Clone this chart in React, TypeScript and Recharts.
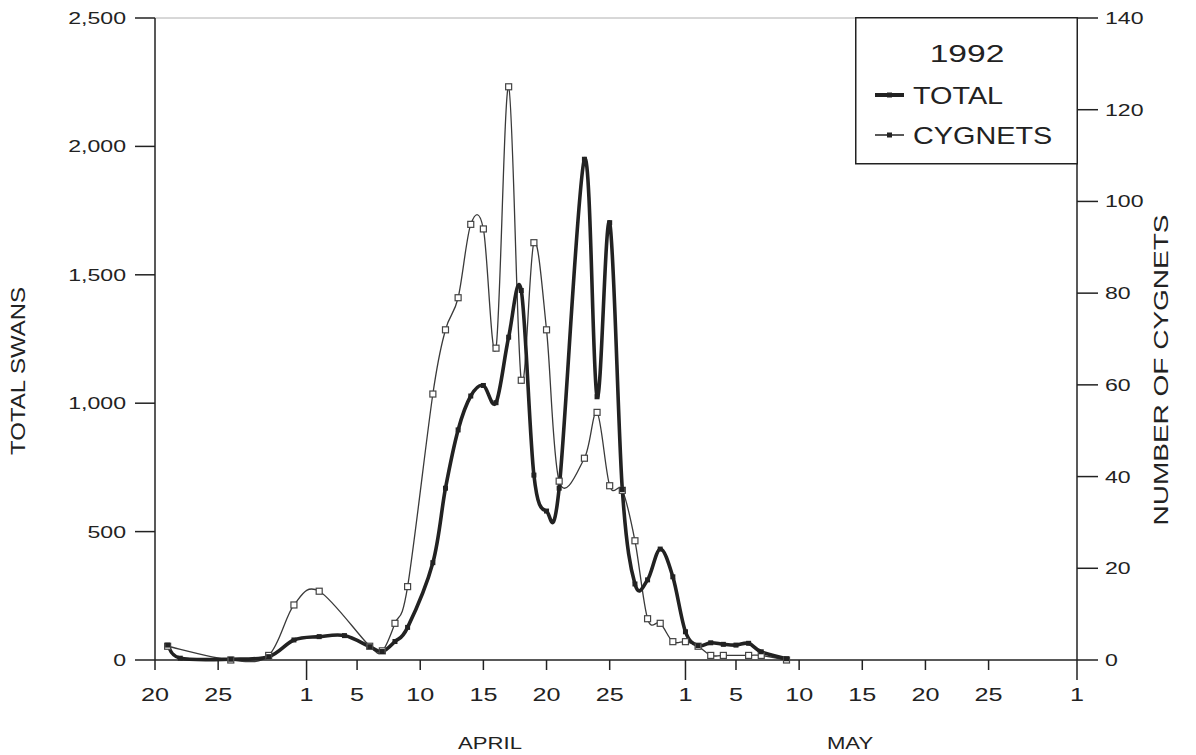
import React from 'react';
import { ComposedChart, Line, XAxis, YAxis, Legend, ReferenceLine } from 'recharts';

// ---- data (day 0 = 20 March 1992) ----
const dayTicks = [0, 5, 12, 16, 21, 26, 31, 36, 42, 46, 51, 56, 61, 66, 73];
const dayTickLabels = ['20', '25', '1', '5', '10', '15', '20', '25', '1', '5', '10', '15', '20', '25', '1'];
const monthStartTicks = [12, 42, 73];
const monthLabels = ['APRIL', 'MAY'];

const totalDays = [1, 2, 6, 9, 11, 13, 15, 17, 18, 19, 20, 22, 23, 24, 25, 26, 27, 28, 29, 30, 31, 32, 34, 35, 36, 37, 38, 39, 40, 41, 42, 43, 44, 45, 46, 47, 48, 50];
const totalValues = [58, 7, 3, 13, 78, 91, 95, 52, 33, 72, 127, 379, 669, 896, 1028, 1069, 1002, 1257, 1439, 720, 580, 669, 1950, 1025, 1703, 664, 296, 312, 432, 324, 110, 56, 67, 61, 58, 65, 32, 5];

const cygnetDays = [1, 6, 9, 11, 13, 17, 18, 19, 20, 22, 23, 24, 25, 26, 27, 28, 29, 30, 31, 32, 34, 35, 36, 37, 38, 39, 40, 41, 42, 43, 44, 45, 47, 48, 50];
const cygnetValues = [3, 0, 1, 12, 15, 3, 2, 8, 16, 58, 72, 79, 95, 94, 68, 125, 61, 91, 72, 39, 44, 54, 38, 37, 26, 9, 8, 4, 4, 3, 1, 1, 1, 1, 0];

const leftTicks = [0, 500, 1000, 1500, 2000, 2500];
const rightTicks = [0, 20, 40, 60, 80, 100, 120, 140];

const totalData = totalDays.map((d, i) => ({ day: d, total: totalValues[i] }));
const cygnetData = cygnetDays.map((d, i) => ({ day: d, cygnets: cygnetValues[i] }));

const INK = '#222';
const FONT = '"Liberation Sans", Arial, sans-serif';

// Catmull-Rom style curve factory
const catmullRom = (context: any) => {
  let pts: number[][] = [];
  return {
    areaStart() {},
    areaEnd() {},
    lineStart() {
      pts = [];
    },
    lineEnd() {
      const n = pts.length;
      if (!n) return;
      context.moveTo(pts[0][0], pts[0][1]);
      const k = 1 / 6;
      for (let i = 0; i < n - 1; i++) {
        const p0 = pts[i - 1] || pts[i];
        const p1 = pts[i];
        const p2 = pts[i + 1];
        const p3 = pts[i + 2] || p2;
        context.bezierCurveTo(
          p1[0] + (p2[0] - p0[0]) * k,
          p1[1] + (p2[1] - p0[1]) * k,
          p2[0] - (p3[0] - p1[0]) * k,
          p2[1] - (p3[1] - p1[1]) * k,
          p2[0],
          p2[1]
        );
      }
    },
    point(x: number, y: number) {
      pts.push([+x, +y]);
    },
  };
};

const XTick = (props: any) => {
  const { x, y, payload } = props;
  const idx = dayTicks.indexOf(payload.value);
  const long = monthStartTicks.includes(payload.value);
  return (
    <g>
      <line x1={x} x2={x} y1={y} y2={y + (long ? 20 : 10)} stroke={INK} strokeWidth={1.5} />
      <text
        transform={`translate(${x},${y + 41}) scale(1.4,1)`}
        textAnchor="middle"
        fontSize={18}
        fontFamily={FONT}
        fill={INK}
      >
        {dayTickLabels[idx]}
      </text>
    </g>
  );
};

const LeftTick = (props: any) => {
  const { x, y, payload } = props;
  return (
    <text
      transform={`translate(${x},${y + 6}) scale(1.4,1)`}
      textAnchor="end"
      fontSize={16.5}
      fontFamily={FONT}
      fill={INK}
    >
      {Number(payload.value).toLocaleString('en-US')}
    </text>
  );
};

const RightTick = (props: any) => {
  const { x, y, payload } = props;
  return (
    <text
      transform={`translate(${x},${y + 6}) scale(1.4,1)`}
      textAnchor="start"
      fontSize={16.5}
      fontFamily={FONT}
      fill={INK}
    >
      {payload.value}
    </text>
  );
};

const TotalDot = (props: any) => {
  const { cx, cy, index } = props;
  if (cx == null || cy == null) return <g key={`t${index}`} />;
  return <rect key={`t${index}`} x={cx - 2.5} y={cy - 2.5} width={5} height={5} fill={INK} />;
};

const CygnetDot = (props: any) => {
  const { cx, cy, index } = props;
  if (cx == null || cy == null) return <g key={`c${index}`} />;
  return (
    <rect
      key={`c${index}`}
      x={cx - 3}
      y={cy - 3}
      width={6}
      height={6}
      fill="#fff"
      stroke="#444"
      strokeWidth={1.2}
    />
  );
};

const LegendBox = () => (
  <svg width={223} height={148} style={{ display: 'block' }}>
    <rect x={0.75} y={0.75} width={221.5} height={146} fill="#fff" stroke={INK} strokeWidth={1.5} />
    <text
      transform="translate(112,45) scale(1.4,1)"
      textAnchor="middle"
      fontSize={24}
      fontFamily={FONT}
      fill={INK}
    >
      1992
    </text>
    <line x1={20} x2={49} y1={78} y2={78} stroke={INK} strokeWidth={4} />
    <rect x={32} y={75.5} width={5} height={5} fill={INK} />
    <text transform="translate(58,87) scale(1.2,1)" fontSize={24} fontFamily={FONT} fill={INK}>
      TOTAL
    </text>
    <line x1={20} x2={49} y1={118} y2={118} stroke={INK} strokeWidth={1.5} />
    <rect x={32} y={115.5} width={5} height={5} fill={INK} />
    <text transform="translate(58,127) scale(1.2,1)" fontSize={24} fontFamily={FONT} fill={INK}>
      CYGNETS
    </text>
  </svg>
);

const leftTitle = () => (
  <text
    transform="translate(18,371) rotate(-90) scale(1.2,1)"
    textAnchor="middle"
    dy="0.36em"
    fontSize={20}
    fontFamily={FONT}
    fill={INK}
  >
    TOTAL SWANS
  </text>
);

const rightTitle = () => (
  <text
    transform="translate(1161,370) rotate(-90) scale(1.4,1)"
    textAnchor="middle"
    dy="0.36em"
    fontSize={20}
    fontFamily={FONT}
    fill={INK}
  >
    NUMBER OF CYGNETS
  </text>
);

const monthTitles = () => (
  <g>
    <text transform="translate(490,749) scale(1.3,1)" textAnchor="middle" fontSize={17} fontFamily={FONT} fill={INK}>
      {monthLabels[0]}
    </text>
    <text transform="translate(850,749) scale(1.3,1)" textAnchor="middle" fontSize={17} fontFamily={FONT} fill={INK}>
      {monthLabels[1]}
    </text>
  </g>
);

export default function App() {
  return (
    <div style={{ position: 'absolute', left: 0, top: 0, width: 1196, height: 755, background: '#fff' }}>
      <ComposedChart width={1196} height={755} margin={{ top: 18, right: 19, bottom: 35, left: 55 }}>
        <XAxis
          xAxisId="x"
          type="number"
          dataKey="day"
          domain={[0, 73]}
          ticks={dayTicks}
          interval={0}
          allowDataOverflow
          tickSize={0}
          tickMargin={0}
          tickLine={false}
          tick={<XTick />}
          height={60}
          axisLine={{ stroke: INK, strokeWidth: 1.5 }}
          label={{ content: monthTitles }}
        />
        <YAxis
          yAxisId="left"
          orientation="left"
          domain={[0, 2500]}
          ticks={leftTicks}
          interval={0}
          width={100}
          tickSize={20}
          tickMargin={9}
          tickLine={{ stroke: INK, strokeWidth: 1.5 }}
          axisLine={{ stroke: INK, strokeWidth: 1.5 }}
          tick={<LeftTick />}
          label={{ content: leftTitle }}
        />
        <YAxis
          yAxisId="right"
          orientation="right"
          domain={[0, 140]}
          ticks={rightTicks}
          interval={0}
          width={100}
          tickSize={21}
          tickMargin={7}
          tickLine={{ stroke: INK, strokeWidth: 1.5 }}
          axisLine={{ stroke: INK, strokeWidth: 1.5 }}
          tick={<RightTick />}
          label={{ content: rightTitle }}
        />
        <ReferenceLine xAxisId="x" yAxisId="left" y={2500} stroke="#b0b0b0" strokeWidth={1} />
        <Legend
          layout="vertical"
          verticalAlign="middle"
          align="center"
          content={LegendBox}
          wrapperStyle={{ position: 'absolute', left: 855, top: 17, width: 223, height: 148 }}
        />
        <Line
          xAxisId="x"
          yAxisId="right"
          data={cygnetData}
          dataKey="cygnets"
          name="CYGNETS"
          type={catmullRom as any}
          stroke="#3a3a3a"
          strokeWidth={1.3}
          dot={CygnetDot}
          activeDot={false}
          isAnimationActive={false}
        />
        <Line
          xAxisId="x"
          yAxisId="left"
          data={totalData}
          dataKey="total"
          name="TOTAL"
          type={catmullRom as any}
          stroke={INK}
          strokeWidth={3.6}
          dot={TotalDot}
          activeDot={false}
          isAnimationActive={false}
        />
      </ComposedChart>
    </div>
  );
}
